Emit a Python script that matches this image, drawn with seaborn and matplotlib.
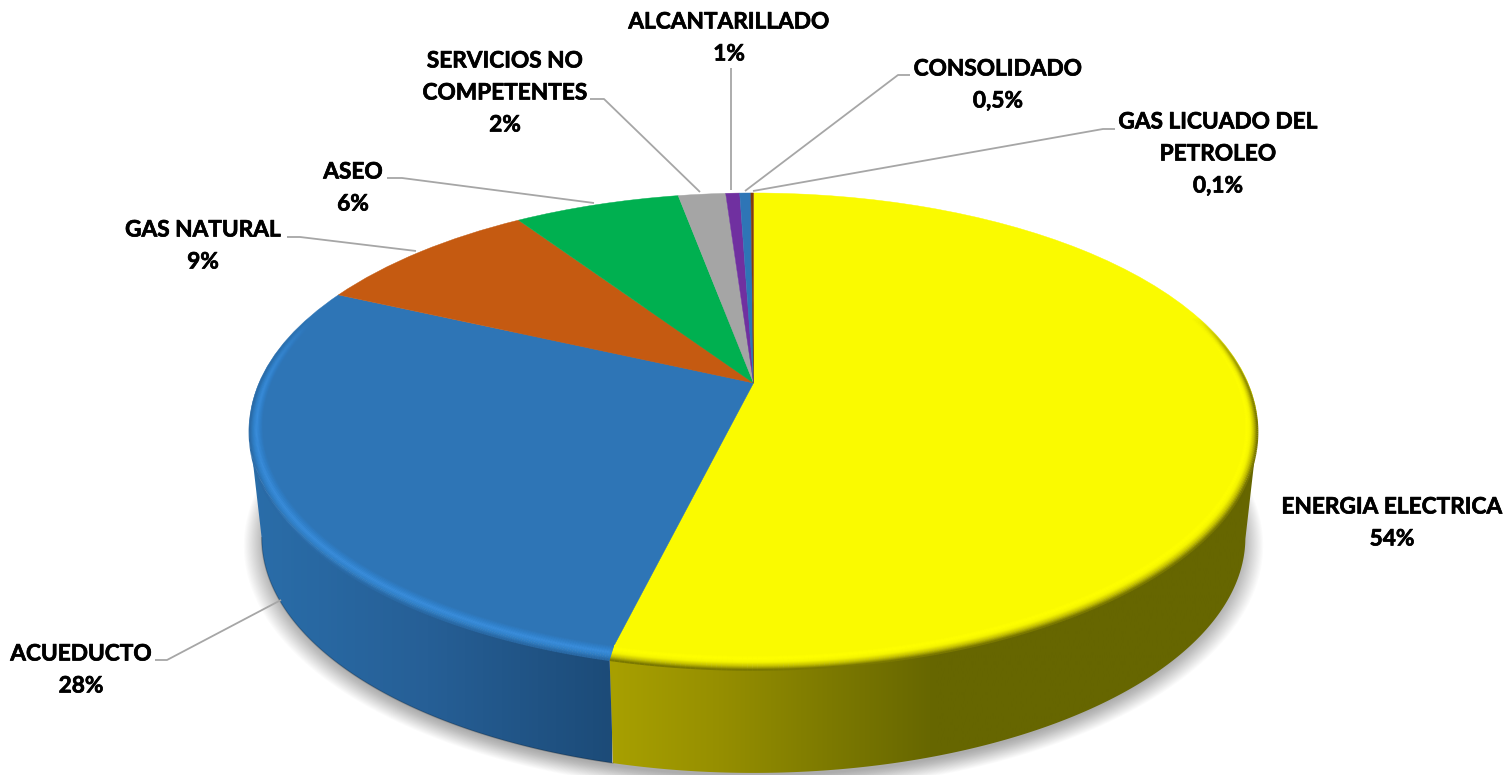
import numpy as np
import matplotlib
matplotlib.use('Agg')
import matplotlib.pyplot as plt
import matplotlib.patheffects as pe
import seaborn as sns
from matplotlib.collections import LineCollection
from matplotlib.patches import Polygon
from matplotlib.transforms import Transform

# Datos
servicios = ['ENERGIA ELECTRICA', 'ACUEDUCTO', 'GAS NATURAL', 'ASEO',
             'SERVICIOS NO\nCOMPETENTES', 'ALCANTARILLADO', 'CONSOLIDADO',
             'GAS LICUADO DEL\nPETROLEO']
valores = [53.8, 28.1, 8.8, 6.4, 1.83, 0.54, 0.43, 0.1]
etiquetas_pct = ['54%', '28%', '9%', '6%', '2%', '1%', '0,5%', '0,1%']
colores = ['#FAFA00', '#2E75B6', '#C55A11', '#00B050',
           '#A5A5A5', '#7030A0', '#2E75B6', '#843C0C']

# Posicion de cada etiqueta (centro de la primera linea, en pixeles)
pos_etiquetas = [(1392, 507), (81, 654), (203, 230), (353, 172),
                 (505, 61), (729, 22), (998, 69), (1218, 122)]
lineas_guia = [[(155, 660), (167, 660), (281, 600)],
               [(287, 237), (300, 237), (416, 251)],
               [(387, 178), (402, 178), (594, 203)],
               [(590, 99), (604, 99), (700, 192)],
               [(731, 68), (731, 190)],
               [(910, 75), (898, 75), (745, 191)],
               [(1115, 129), (1103, 129), (753, 191)]]

# Perspectiva del disco
CX, CY = 753.5, 383.0
A, B, K = 494.5, 226.7, 0.193
ALTO = 109.0
ESCALA_BASE = 0.976


class Perspectiva(Transform):
    input_dims = 2
    output_dims = 2

    def transform_non_affine(self, values):
        values = np.asarray(values)
        w = 1 + K * values[:, 1]
        return np.column_stack([CX + A * values[:, 0] / w,
                                CY - B * values[:, 1] / w])


persp = Perspectiva()


def arco(th, r=1.0, dy=0.0, escala=1.0):
    rad = np.radians(th)
    p = persp.transform_non_affine(np.column_stack([r * np.cos(rad), r * np.sin(rad)]))
    p[:, 0] = CX + (p[:, 0] - CX) * escala
    p[:, 1] += dy
    return p


sns.set_theme(style='white')
plt.rcParams['font.family'] = ['Lato', 'DejaVu Sans']

fig = plt.figure(figsize=(15.1, 7.75), dpi=100, facecolor='white')
ax = fig.add_axes([0, 0, 1, 1])
wedges, _ = ax.pie(valores, colors=colores, startangle=90, counterclock=False,
                   wedgeprops=dict(linewidth=0.3))
for w, c in zip(wedges, colores):
    w.set_transform(persp + ax.transData)
    w.set_edgecolor(c)
    w.set_zorder(3)

# Sombra difusa bajo el disco
th_todo = np.linspace(0, 360, 240)
for i in range(22):
    s = 0.99 + i * 0.0022
    p = arco(th_todo, dy=ALTO + 3, escala=ESCALA_BASE * s)
    p[:, 1] = CY + 44 + (p[:, 1] - CY - 44) * (1 + i * 0.0022)
    ax.add_patch(Polygon(p, closed=True, fc='black', ec='none', alpha=0.017, zorder=1))

# Costado con degradado
gradientes = {0: sns.blend_palette(['#A8A000', '#968F00', '#7D7A00', '#666600',
                                    '#666600', '#666600', '#666600'], as_cmap=True),
              1: sns.blend_palette(['#2A6EAA', '#265F96', '#1C4B78'], as_cmap=True)}
limites_x = {0: (610, 1260), 1: (245, 612)}
for i, cmap in gradientes.items():
    th = np.linspace(wedges[i].theta1, wedges[i].theta2, 400)
    # solo lo que queda por delante del punto mas ancho de la elipse
    th = th[np.sin(np.radians(th)) < -K]
    sup = arco(th, dy=4)
    inf = arco(th, dy=ALTO, escala=ESCALA_BASE)
    poly = Polygon(np.vstack([sup, inf[::-1]]), closed=True, fc='none', ec='none',
                   transform=ax.transData)
    ax.add_patch(poly)
    x0, x1 = limites_x[i]
    img = ax.imshow(np.linspace(0, 1, 256)[None, :], cmap=cmap, aspect='auto', zorder=2,
                    extent=(x0, x1, 775, 0), interpolation='bilinear')
    img.set_clip_path(poly)
    if i == 1:
        ax.plot(inf[:, 0], inf[:, 1], color='black', alpha=0.2, lw=1.0, zorder=2.5)

# Bisel del borde superior
rim = {0: sns.blend_palette(['#FAFA00', '#FFFF00', '#F5F500', '#C8C400', '#7A7800'], as_cmap=True),
       1: sns.blend_palette(['#2E75B6', '#3080CA', '#3A8EDC', '#3080C8', '#2A6AA6'], as_cmap=True)}
n_anillos = 16
for i, cmap in rim.items():
    th = np.linspace(wedges[i].theta1, wedges[i].theta2, 400)
    v = np.sin(np.radians(th))
    for t in np.linspace(0, 1, n_anillos):
        p = arco(th, r=0.975 + 0.025 * t)
        p[:, 1] += 6 * t * np.clip((0.3 - v) / 0.8, 0, 1)
        seg = np.stack([p[:-1], p[1:]], axis=1)
        rgba = np.tile(cmap(t), (len(seg), 1))
        rgba[:, 3] = np.clip((0.3 - v[:-1]) / 0.45, 0, 1)
        ax.add_collection(LineCollection(seg, colors=rgba, linewidths=1.3,
                                         capstyle='butt', zorder=4))

# Lineas guia
for linea in lineas_guia:
    xs, ys = zip(*linea)
    ax.plot(xs, ys, color='#A6A6A6', lw=1.3, zorder=5, solid_capstyle='butt')

# Etiquetas
for nombre, pct, (x, y) in zip(servicios, etiquetas_pct, pos_etiquetas):
    lineas = nombre.split('\n') + [pct]
    for j, texto in enumerate(lineas):
        ax.text(x, y + j * 32, texto, ha='center', va='center', fontsize=16.3,
                fontweight='bold', color='black', zorder=6,
                path_effects=[pe.withStroke(linewidth=0.5, foreground='black')])

ax.set_aspect('auto')
ax.set_xlim(0, 1510)
ax.set_ylim(775, 0)
ax.axis('off')
fig.savefig('out.png', dpi=100, facecolor='white')
